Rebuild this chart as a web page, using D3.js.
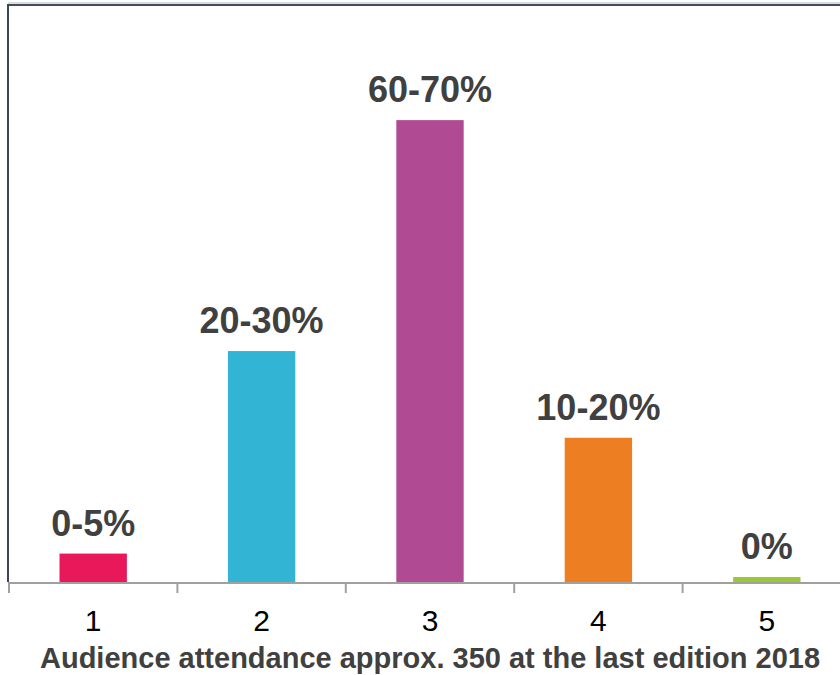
<!DOCTYPE html>
<html>
<head>
<meta charset="utf-8">
<script src="https://cdn.jsdelivr.net/npm/d3@7"></script>
<style>
  body { margin: 0; background: #fff; }
  svg { display: block; font-family: "Liberation Sans", Arial, sans-serif; }
</style>
</head>
<body>
<svg id="svgcanvas" width="840" height="675"></svg>
<script>
// data
var categories = ["1", "2", "3", "4", "5"];
var values = [4, 32.5, 65, 20.3, 0.7];
var valueLabels = ["0-5%", "20-30%", "60-70%", "10-20%", "0%"];
var barColors = ["#e8185b", "#32b4d4", "#b04b93", "#ee7e22", "#9dc835"];
var axisTitle = "Audience attendance approx. 350 at the last edition 2018";

var svg = d3.select("#svgcanvas");

// plot area runs off the right edge of the picture
var plotLeft = 9, plotRight = 851, plotTop = 5, plotBase = 582;

var x = d3.scaleBand()
  .domain(categories)
  .range([plotLeft, plotRight])
  .paddingInner(0.6)
  .paddingOuter(0.3);

var y = d3.scaleLinear()
  .domain([0, 81.2])
  .range([plotBase, plotTop]);

var step = x.step();

// frame: top and left edges
svg.append('line')
  .attr('x1', plotLeft - 1).attr('x2', 840)
  .attr('y1', 3).attr('y2', 3)
  .attr('stroke', '#b4b9c0').attr('stroke-width', 1);
svg.append('line')
  .attr('x1', plotLeft - 2).attr('x2', 840)
  .attr('y1', 5).attr('y2', 5)
  .attr('stroke', '#454d5c').attr('stroke-width', 2);
svg.append('line')
  .attr('x1', 8).attr('x2', 8)
  .attr('y1', 4).attr('y2', plotBase)
  .attr('stroke', '#3d4558').attr('stroke-width', 2);

// bars
svg.append('g').attr('id', 'g_rects')
  .selectAll('rect')
  .data(values)
  .enter()
  .append('rect')
  .attr('x', function(d, i) { return x(categories[i]); })
  .attr('y', function(d) { return y(d); })
  .attr('width', x.bandwidth())
  .attr('height', function(d) { return y(0) - y(d); })
  .attr('fill', function(d, i) { return barColors[i]; });

// value labels
svg.append('g').attr('id', 'g_text')
  .selectAll('text')
  .data(values)
  .enter()
  .append('text')
  .attr('x', function(d, i) { return x(categories[i]) + x.bandwidth() / 2; })
  .attr('y', function(d) { return y(d) - 18; })
  .attr('text-anchor', 'middle')
  .attr('font-size', 36)
  .attr('font-weight', 'bold')
  .attr('fill', '#404040')
  .text(function(d, i) { return valueLabels[i]; });

// x axis line and tick marks at band boundaries
svg.append('line')
  .attr('x1', plotLeft - 1).attr('x2', 840)
  .attr('y1', plotBase + 1).attr('y2', plotBase + 1)
  .attr('stroke', '#a0a0a0').attr('stroke-width', 2);

svg.append('g').attr('id', 'g_lines')
  .selectAll('line')
  .data(d3.range(categories.length + 1))
  .enter()
  .append('line')
  .attr('x1', function(i) { return plotLeft + i * step; })
  .attr('x2', function(i) { return plotLeft + i * step; })
  .attr('y1', plotBase + 1)
  .attr('y2', plotBase + 11)
  .attr('stroke', '#a0a0a0')
  .attr('stroke-width', 2);

// category labels
svg.append('g')
  .selectAll('text')
  .data(categories)
  .enter()
  .append('text')
  .attr('x', function(d) { return x(d) + x.bandwidth() / 2; })
  .attr('y', 631)
  .attr('text-anchor', 'middle')
  .attr('font-size', 30)
  .attr('fill', '#000')
  .text(function(d) { return d; });

// axis title
svg.append('text')
  .attr('x', (plotLeft + plotRight) / 2)
  .attr('y', 668)
  .attr('text-anchor', 'middle')
  .attr('font-size', 29)
  .attr('font-weight', 'bold')
  .attr('fill', '#404040')
  .text(axisTitle);
</script>
</body>
</html>
